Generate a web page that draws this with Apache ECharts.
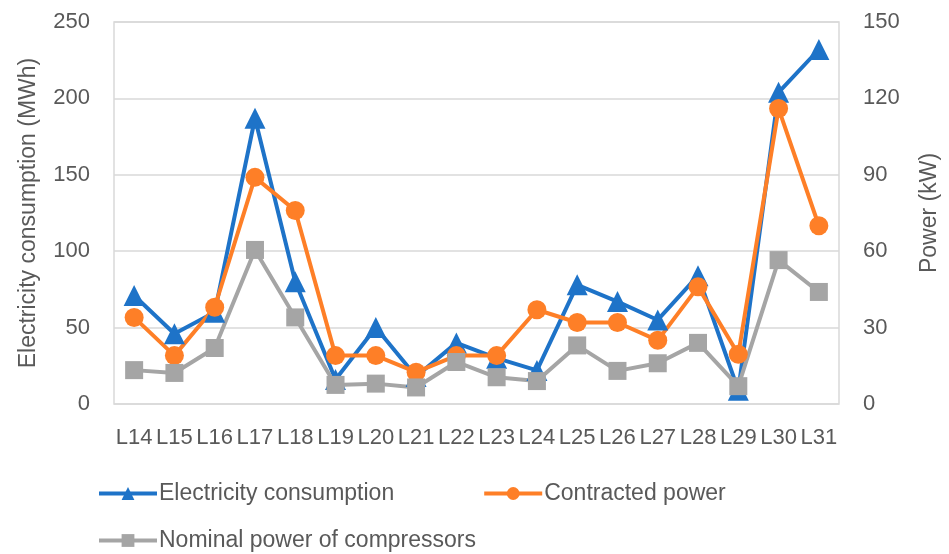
<!DOCTYPE html>
<html>
<head>
<meta charset="utf-8">
<script src="https://cdn.jsdelivr.net/npm/echarts@6/dist/echarts.min.js"></script>
<style>
html,body{margin:0;padding:0;background:#fff;}
#chart{width:949px;height:554px;}
</style>
</head>
<body>
<div id="chart"></div>
<script>
const categories = ['L14','L15','L16','L17','L18','L19','L20','L21','L22','L23','L24','L25','L26','L27','L28','L29','L30','L31'];
const electricity = [71, 46, 60, 187, 80, 16, 50, 18, 40, 30, 22, 78, 67, 55, 84, 9, 204, 232];
const contracted = [34, 19, 38, 89, 76, 19, 19, 12.5, 19, 19, 37, 32, 32, 25, 46, 19.5, 116, 70];
const nominal = [13.3, 12.2, 22, 60.5, 34, 7.5, 8, 6.5, 16.5, 10.5, 9, 23, 13, 16, 24, 7, 56.5, 44];
const leftTicks = {min: 0, max: 250, interval: 50};
const rightTicks = {min: 0, max: 150, interval: 30};

const FONT = "'Liberation Sans', Arial, sans-serif";
const TXT = '#595959';
const chart = echarts.init(document.getElementById('chart'), null, {renderer: 'canvas'});
const legendCommon = {itemWidth: 58, itemHeight: 16, padding: 0,
  lineStyle: {width: 4},
  textStyle: {fontFamily: FONT, fontSize: 23, color: TXT, padding: [0, 0, 0, -3]}};
chart.setOption({
  animation: false,
  backgroundColor: '#fff',
  textStyle: {fontFamily: FONT, color: TXT},
  grid: {left: 114, right: 106, top: 22, bottom: 150, show: true, borderColor: '#D9D9D9', borderWidth: 1.5},
  legend: [
    Object.assign({data: ['Electricity consumption', 'Contracted power'], left: 97, top: 482, itemGap: 88}, legendCommon),
    Object.assign({data: ['Nominal power of compressors'], left: 97, top: 529}, legendCommon)
  ],
  xAxis: {
    type: 'category', data: categories, boundaryGap: true,
    axisLine: {show: false}, axisTick: {show: false},
    axisLabel: {interval: 0, fontFamily: FONT, fontSize: 22, color: TXT, margin: 23}
  },
  yAxis: [
    {type: 'value', min: leftTicks.min, max: leftTicks.max, interval: leftTicks.interval,
     name: 'Electricity consumption (MWh)', nameLocation: 'middle', nameGap: 74, nameRotate: 90,
     nameTextStyle: {fontFamily: FONT, fontSize: 23, color: TXT},
     axisLine: {show: false}, axisTick: {show: false},
     axisLabel: {fontFamily: FONT, fontSize: 22, color: TXT, margin: 24},
     splitLine: {lineStyle: {color: '#D9D9D9', width: 1.5}}},
    {type: 'value', min: rightTicks.min, max: rightTicks.max, interval: rightTicks.interval,
     name: 'Power (kW)', nameLocation: 'middle', nameGap: 79, nameRotate: 90,
     nameTextStyle: {fontFamily: FONT, fontSize: 23, color: TXT},
     axisLine: {show: false}, axisTick: {show: false},
     axisLabel: {fontFamily: FONT, fontSize: 22, color: TXT, margin: 24},
     splitLine: {show: false}}
  ],
  series: [
    {name: 'Electricity consumption', type: 'line', yAxisIndex: 0, data: electricity,
     symbol: 'triangle', symbolSize: 21, color: '#1E73C8',
     lineStyle: {width: 4, color: '#1E73C8'}, itemStyle: {color: '#1E73C8'}},
    {name: 'Contracted power', type: 'line', yAxisIndex: 1, data: contracted,
     symbol: 'circle', symbolSize: 19, color: '#FE7F27',
     lineStyle: {width: 4, color: '#FE7F27'}, itemStyle: {color: '#FE7F27'}},
    {name: 'Nominal power of compressors', type: 'line', yAxisIndex: 1, data: nominal,
     symbol: 'rect', symbolSize: 18, color: '#A5A5A5',
     lineStyle: {width: 4, color: '#A5A5A5'}, itemStyle: {color: '#A5A5A5'}}
  ]
});
</script>
</body>
</html>
